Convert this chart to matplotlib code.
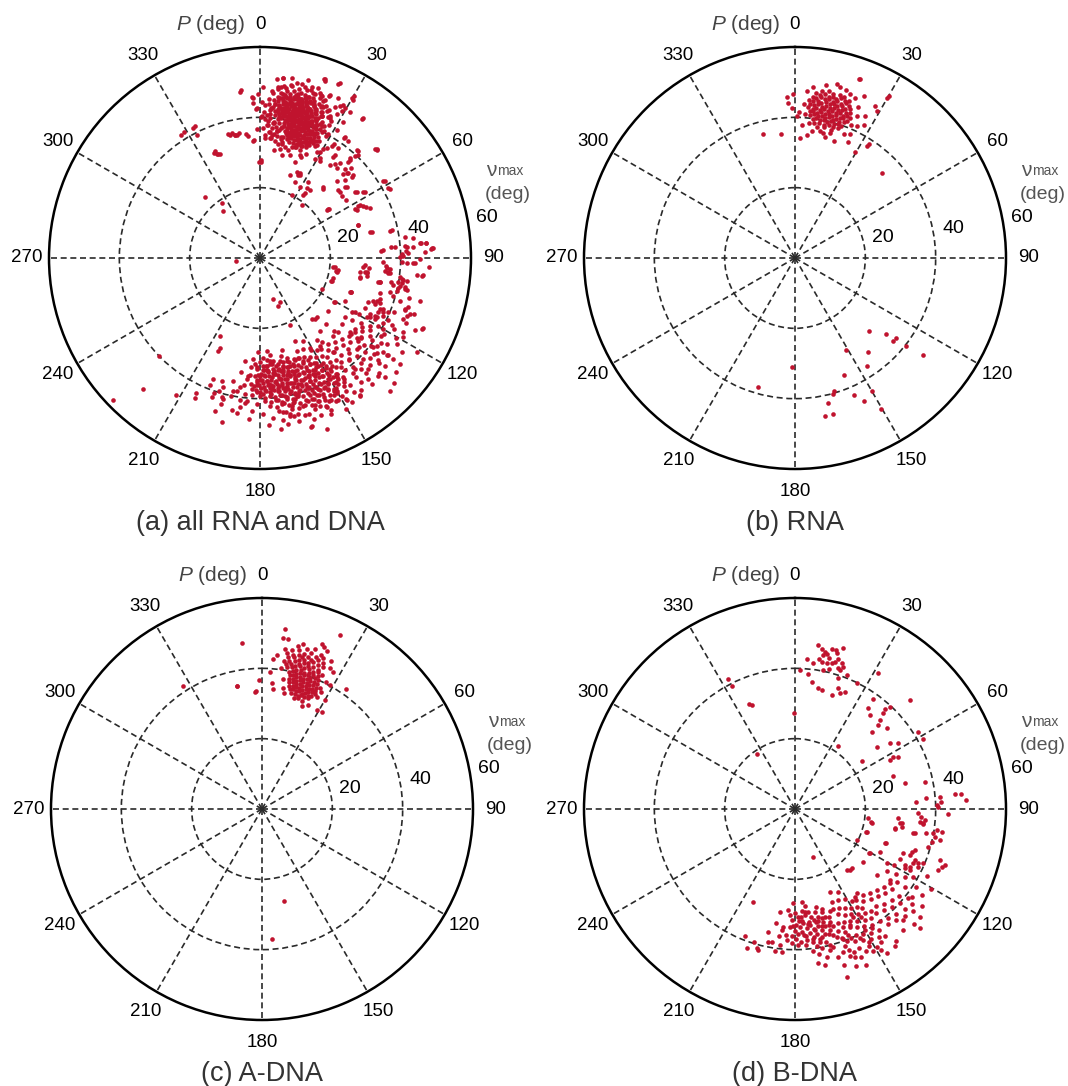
import numpy as np
import matplotlib.pyplot as plt

plt.rcParams['font.family'] = ['Liberation Sans', 'DejaVu Sans']
plt.rcParams['mathtext.fontset'] = 'custom'
plt.rcParams['mathtext.it'] = 'Liberation Sans:italic'
plt.rcParams['mathtext.rm'] = 'Liberation Sans'

# (P, vmax) pairs in degrees
rna_north = [
    (9.2,48.1),(11.4,48.3),(13.1,47.8),(15.3,48.2),(17.0,47.9),
    (7.1,47.2),(8.7,46.8),(10.2,47.4),(11.8,46.9),(13.4,47.1),(14.6,46.7),(16.2,47.3),(17.7,46.9),(19.1,47.2),
    (6.2,46.1),(7.6,45.8),(9.1,46.3),(10.6,45.9),(12.2,46.2),(13.7,45.7),(15.1,46.1),(16.6,45.8),(18.2,46.3),(19.6,45.9),
    (5.1,45.2),(6.6,44.8),(8.2,45.1),(9.6,44.7),(11.1,45.3),(12.7,44.9),(14.2,45.2),(15.6,44.8),(17.1,45.1),(18.7,44.7),(20.1,45.2),
    (5.6,44.1),(7.2,43.8),(8.6,44.2),(10.1,43.7),(11.7,44.1),(13.2,43.8),(14.7,44.2),(16.1,43.9),(17.6,44.3),(19.2,43.8),(20.6,44.1),
    (5.1,43.0),(6.7,42.7),(8.1,43.2),(9.7,42.8),(11.2,43.1),(12.6,42.7),(14.1,43.2),(15.7,42.8),(17.2,43.1),(18.6,42.7),(20.2,43.1),(21.6,42.8),
    (5.7,41.9),(7.1,42.1),(8.7,41.7),(10.2,42.2),(11.6,41.8),(13.1,42.1),(14.6,41.7),(16.2,42.2),(17.7,41.8),(19.1,42.1),(20.7,41.7),
    (6.1,40.9),(7.7,41.2),(9.2,40.8),(10.6,41.1),(12.1,40.7),(13.7,41.2),(15.2,40.8),(16.6,41.1),(18.1,40.7),(19.7,41.1),
    (7.2,39.9),(8.6,40.2),(10.1,39.8),(11.7,40.1),(13.2,39.7),(14.6,40.2),(16.1,39.8),(17.7,40.1),(19.2,39.8),
    (8.1,38.9),(10.2,39.1),(12.1,38.8),(14.2,39.1),(16.1,38.7),(18.1,39.0),
    (9.6,37.9),(12.4,38.1),(15.5,37.8),
    (19.6,54.0),(357.0,45.9),(359.4,46.6),(357.5,44.2),(359.0,42.8),(0.7,40.4),(1.5,41.5),(2.9,38.0),(345.6,36.5),(353.5,35.4),
    (2.4,34.2),(5.5,35.0),(11.2,36.8),(12.8,36.5),(15.8,36.8),(18.5,35.0),(25.2,41.5),(26.4,45.0),(27.9,48.9),(29.2,47.9),
    (29.9,52.6),(32.8,37.8),(33.0,38.5),(29.6,34.7),(23.0,50.0),(18.6,49.2),(13.5,50.8),(14.8,50.2),(10.0,50.0),(6.0,49.0),
    (22.5,46.5),(23.5,44.0),(22.8,41.0),(24.0,38.5),(21.5,38.0),(4.0,47.5),(3.5,44.0),(4.0,41.0),(6.0,38.5),(20.5,48.5),
    (27.5,42.5),(45.8,34.7),(30.3,53.2),(20.0,54.2),(7.5,36.5),(14.0,35.5),(24.5,36.2),(16.8,49.8),
]

rna_south = [
    (134.8,29.6),(130.0,33.7),(130.3,36.5),(128.4,36.7),(128.4,40.2),(127.0,45.6),(150.8,30.0),
    (142.0,33.9),(146.2,36.9),(181.7,31.1),(157.3,36.2),(163.8,39.5),(164.5,40.1),(156.5,42.4),
    (149.8,43.7),(154.3,45.0),(167.1,42.4),(150.4,49.4),(169.2,45.6),(166.2,45.6),(195.8,38.2),
]

adna = [
    (12.5,47.6),(15.8,47.2),(18.4,47.9),(21.0,47.0),(14.0,48.5),
    (10.6,45.9),(13.1,46.3),(15.2,45.8),(17.3,46.4),(19.6,46.0),(22.1,46.2),
    (11.4,44.8),(13.6,45.2),(14.9,44.6),(16.8,45.1),(18.3,44.7),(20.4,45.3),(22.6,44.9),
    (9.8,43.9),(12.0,44.2),(13.9,43.7),(15.8,44.1),(17.4,43.6),(19.1,44.3),(21.2,43.8),(23.3,43.9),
    (10.5,42.8),(12.6,43.1),(14.4,42.6),(16.1,43.2),(17.9,42.7),(19.7,43.0),(21.8,42.7),
    (9.4,41.9),(11.3,42.1),(13.2,41.7),(15.0,42.2),(16.7,41.8),(18.5,42.1),(20.2,41.6),(22.4,42.0),(24.2,41.8),
    (10.2,40.9),(12.0,41.2),(13.8,40.7),(15.5,41.1),(17.2,40.6),(18.9,41.0),(20.7,40.7),(22.6,41.1),
    (11.0,39.8),(12.6,40.2),(14.2,39.7),(15.8,40.1),(17.3,39.8),(18.8,40.2),(20.3,39.7),(21.9,40.1),(23.6,39.9),
    (11.6,38.9),(13.1,39.2),(14.6,38.8),(16.1,39.1),(17.6,38.7),(19.1,39.0),(20.6,38.8),(22.2,39.1),(23.8,38.8),
    (11.9,37.8),(13.4,38.1),(14.9,37.7),(16.4,38.2),(17.9,37.9),(19.4,38.1),(20.9,37.7),(22.4,38.0),(24.0,37.8),
    (12.2,36.9),(13.7,37.1),(15.2,36.7),(16.7,37.2),(18.2,36.8),(19.7,37.1),(21.2,36.7),(22.7,37.0),(24.3,36.8),
    (12.6,35.8),(14.1,36.2),(15.6,35.9),(17.1,36.1),(18.6,35.7),(20.1,36.2),(21.6,35.8),(23.1,36.1),(24.6,35.9),
    (13.0,34.9),(14.6,35.2),(16.1,34.8),(17.6,35.1),(19.1,34.7),(20.6,35.1),(22.1,34.8),(23.7,35.0),
    (14.2,33.9),(15.8,34.1),(17.4,33.8),(19.0,34.2),(20.6,33.9),(22.3,34.1),
    (16.0,32.9),(18.2,33.2),(20.5,32.8),
    (7.3,51.7),(7.1,48.9),(8.8,48.9),(24.3,54.2),(353.0,47.6),(4.0,42.9),(5.4,44.0),(358.8,36.7),(357.0,33.7),(348.6,35.6),
    (3.3,39.0),(4.4,35.8),(5.4,34.4),(25.8,44.4),(27.5,44.0),(28.7,40.2),(35.0,41.5),(28.9,32.1),(31.5,32.4),(21.0,31.4),
    (30.0,35.8),(21.0,49.2),(20.0,49.8),(22.5,48.6),(327.2,41.5),(348.7,35.8),(356.8,33.4),(166.8,27.0),(175.8,37.1),(8.0,46.0),
    (7.5,40.5),(25.5,38.0),(26.0,35.5),(9.0,37.5),(10.0,35.0),(26.5,40.5),(25.0,46.5),(8.5,42.5),(24.0,32.5),(11.0,33.5),
    (26.8,37.2),(9.2,44.8),
]

bdna_north = [
    (8.1,47.1),(10.8,45.5),(11.5,45.1),(10.4,44.5),(15.0,45.8),(16.0,44.5),(15.2,43.4),(14.1,42.7),(12.3,42.4),(17.8,43.5),
    (18.7,42.7),(17.9,41.5),(4.5,42.7),(10.3,42.5),(11.5,40.3),(5.6,38.7),(7.5,36.5),(10.9,34.9),(12.6,34.8),(17.8,34.0),
    (19.7,36.4),(21.2,35.4),(23.1,36.2),(21.1,40.8),(18.3,39.1),(26.0,39.9),(31.5,45.2),(359.4,27.2),(2.0,39.5),(46.5,45.0),
    (36.0,35.4),(38.6,34.2),(35.3,38.5),(42.1,38.2),(42.7,37.0),(42.9,39.7),(43.7,35.0),(44.8,33.6),(44.8,30.9),(48.6,34.7),
    (52.9,29.3),(55.3,32.8),(57.3,34.9),(57.9,41.4),(61.5,41.5),(62.0,31.6),(62.7,30.4),(63.4,32.8),(34.5,21.7),(54.0,23.4),
    (71.3,29.3),(76.6,32.1),(78.1,37.7),(86.6,34.6),(85.4,37.5),(85.2,41.3),(87.1,41.7),(84.6,45.6),(84.8,47.3),(87.0,48.6),
    (88.4,40.3),(89.1,40.7),(92.0,35.0),(93.5,36.0),(94.8,37.0),(96.7,36.7),(95.8,35.7),(91.9,43.6),(95.1,29.5),(97.8,30.1),
    (101.5,29.0),(99.4,30.7),(97.2,21.0),(99.5,21.8),(107.7,21.2),(116.5,19.8),(110.3,27.6),(101.4,34.8),(100.5,38.0),(100.0,39.9),
    (101.2,40.5),(98.4,40.7),(98.8,42.2),(102.0,42.1),(103.5,40.0),(105.8,39.4),(109.4,43.7),(111.5,44.8),(113.0,44.3),(110.6,45.6),
    (332.7,41.5),(332.7,39.3),(336.2,32.7),(337.5,31.9),(325.4,19.0),(13.0,46.6),(9.0,43.2),(16.5,47.6),(12.8,44.0),(14.5,46.8),
    (9.5,46.2),(16.8,42.0),(13.5,41.0),(7.2,41.8),
]

bdna_south = [
    (181.7,31.5),(182.7,30.1),(183.8,28.8),(188.3,29.5),(181.0,26.8),(175.9,26.4),(181.4,38.2),(186.3,38.9),(186.3,34.6),(185.7,33.6),
    (178.2,30.6),(176.5,31.8),(174.8,30.2),(173.1,32.5),(171.4,31.1),(169.6,32.8),(167.9,31.4),(166.2,33.2),(164.5,31.9),(162.8,33.6),
    (179.3,32.9),(177.6,33.7),(175.9,32.4),(174.2,34.1),(172.5,33.3),(170.8,34.6),(169.1,33.9),(167.4,35.2),(165.7,34.4),(164.0,35.8),
    (180.1,34.8),(178.4,35.6),(176.7,34.9),(175.0,36.2),(173.3,35.5),(171.6,36.8),(169.9,36.1),(168.2,37.3),(166.5,36.6),(163.2,37.4),
    (179.5,36.9),(177.3,37.8),(174.6,37.4),(172.2,38.3),(169.4,38.6),(166.8,38.9),(161.9,35.1),(162.4,32.2),(165.3,30.4),(168.8,29.9),
    (172.6,29.5),(176.1,29.1),(179.9,29.7),(170.2,31.9),(173.7,33.0),(177.0,30.7),(167.1,34.1),(164.6,36.9),(162.0,38.2),(180.8,33.3),
    (175.3,38.9),(171.0,39.5),(178.9,38.7),(184.2,35.9),(183.5,37.2),(182.4,33.6),(165.0,29.3),(161.2,30.6),(168.0,28.4),(174.0,27.8),
    (170.5,35.0),(176.0,35.8),(168.5,32.5),(172.0,37.2),(178.0,32.0),(166.0,31.8),(163.5,34.5),(174.5,29.5),(181.5,36.0),(169.0,37.8),
    (159.2,30.4),(157.8,32.1),(156.3,30.8),(154.9,33.2),(153.4,31.6),(151.9,34.0),(150.5,32.3),(149.0,34.8),(147.6,33.1),(146.1,35.6),
    (159.6,34.7),(158.1,36.3),(156.7,34.9),(155.2,37.1),(153.8,35.6),(152.3,38.0),(150.8,36.4),(149.4,38.8),(147.9,37.2),(146.5,39.5),
    (160.1,39.0),(158.6,40.4),(157.2,38.8),(155.7,41.2),(154.2,39.7),(152.8,42.0),(151.3,40.5),(149.8,42.9),(148.4,41.3),(146.9,43.6),
    (159.0,42.8),(157.5,44.1),(155.4,43.5),(153.6,45.2),(151.7,44.4),(149.3,45.8),(147.2,45.1),(145.4,41.9),(145.0,37.8),(145.8,33.9),
    (157.0,25.5),(152.4,26.5),(155.0,28.6),(151.0,29.4),(148.2,30.7),(146.0,31.2),(158.3,28.5),(160.4,36.8),(156.0,46.2),(151.6,34.8),
    (154.5,36.5),(150.0,39.6),(157.9,37.6),(148.8,36.0),(153.1,41.0),(156.6,40.0),(147.3,40.3),(150.9,43.2),(144.8,44.3),(159.5,44.7),
    (139.7,22.7),(138.0,23.3),(136.3,23.3),(145.6,30.2),(143.8,29.7),(127.7,24.5),(120.8,24.6),
    (143.2,32.5),(141.5,31.1),(139.8,33.4),(138.1,32.0),(136.4,34.3),(134.7,32.8),(133.0,35.1),(131.3,33.6),(129.6,35.9),(127.9,34.4),
    (143.6,36.2),(141.9,37.5),(140.2,36.0),(138.5,38.4),(136.8,37.0),(135.1,39.2),(133.4,37.8),(131.7,40.1),(130.0,38.6),(128.3,40.9),
    (142.7,40.1),(141.0,42.0),(139.3,40.7),(137.6,42.8),(135.9,41.4),(134.2,43.6),(132.5,42.3),(130.8,44.4),(129.1,43.0),(127.4,45.3),
    (135.7,44.0),(138.2,46.1),(134.0,46.9),(130.8,46.9),(133.7,49.1),(126.8,33.9),(128.9,30.0),(125.6,35.7),(126.9,41.5),(125.2,38.3),
    (120.6,30.3),(119.7,32.3),(122.7,34.0),(112.2,33.3),(110.1,35.3),(108.9,36.0),(114.7,37.0),(113.8,38.3),(112.9,39.6),(117.9,37.0),
    (119.8,38.7),(122.6,41.0),(124.0,43.5),(120.5,44.8),(117.0,42.0),(115.5,33.0),(118.2,35.5),(121.5,36.8),(123.8,31.6),(110.5,27.3),
    (107.6,21.4),(100.6,22.2),(100.9,28.9),(101.6,34.3),(96.4,36.7),(97.6,30.6),(111.8,35.2),(113.0,37.0),(115.0,38.7),(116.6,36.6),
    (117.0,35.1),(120.6,24.7),(116.7,27.0),
    (171.4,44.2),(169.1,45.1),(162.9,50.1),(158.0,45.5),(163.7,43.7),(161.3,42.8),(166.1,41.3),(164.5,40.6),(167.9,42.9),(151.2,46.2),
    (144.0,48.3),(147.6,48.6),(160.0,41.5),(165.5,39.8),(168.8,40.2),(170.5,41.8),(162.5,46.4),(158.6,47.8),(155.5,48.6),(148.8,47.0),
    (142.5,47.3),(172.8,40.6),(159.8,39.4),
    (204.2,28.9),(201.5,38.8),(195.4,41.0),(194.6,41.4),(191.4,38.5),(190.0,38.3),(188.0,40.9),(192.5,35.8),(189.6,33.0),(197.0,39.5),
    (185.0,40.8),(199.0,41.8),(187.2,36.4),(160.0,14.6),
]

# residues in (a) that belong to none of the three sub-sets
misc_north = [
    (8.0,49.5),(10.5,49.8),(13.0,49.3),(15.5,49.7),(18.0,49.2),(20.5,49.6),(12.0,50.8),(19.0,51.0),
    (6.0,48.2),(22.0,48.0),(23.5,47.2),(4.5,47.0),(24.5,46.0),
    (22.3,46.6),(23.0,45.2),(23.8,44.0),(22.5,43.2),(24.5,42.5),(23.2,41.2),(25.0,40.5),(22.8,40.0),(24.7,39.0),(23.0,38.4),
    (4.2,39.8),(5.8,39.0),(3.5,38.0),(5.2,37.2),(7.0,37.6),(8.6,36.8),(4.0,36.0),(6.3,35.6),(8.0,35.0),(9.8,34.3),
    (5.0,34.2),(7.2,33.4),(9.0,32.7),(11.0,33.0),(12.8,32.3),(10.5,31.5),(14.5,31.6),(7.5,31.0),
    (8.8,44.9),(11.9,44.5),(14.9,44.3),(17.9,44.7),(9.9,42.4),(12.9,42.4),(15.9,42.3),(18.9,42.5),(11.2,40.4),(14.0,40.5),
    (16.9,40.3),(19.9,40.6),(8.4,40.5),(10.4,38.3),(13.0,38.4),(15.9,38.3),(18.7,38.4),(21.3,38.9),(11.5,36.4),(14.0,36.5),
    (16.8,36.3),(19.5,36.5),(10.5,46.6),(13.5,46.5),(16.4,46.6),(19.4,46.5),(7.3,43.5),(20.9,44.8),(21.9,42.4),(6.8,45.7),
    (3.2,45.3),(3.8,42.1),(2.8,40.6),(26.5,44.5),(26.0,41.8),(25.6,37.0),(20.3,34.0),(17.6,33.2),(22.5,35.5),
    (353.4,48.0),(346.3,36.0),(349.3,35.7),(354.4,35.0),(7.4,51.6),(20.2,53.6),(24.6,54.6),(16.8,50.8),(23.2,50.4),(26.0,50.7),
    (30.6,52.1),(36.5,49.4),(47.0,45.3),(357.6,45.4),(0.6,44.4),(358.5,42.4),(0.3,40.1),(0.4,27.4),(338.9,31.6),(20.0,29.1),
    (25.3,26.6),(24.8,26.0),(19.9,25.1),(328.7,41.8),(333.6,41.8),(337.0,33.0),(338.0,32.0),(318.0,23.5),(322.0,16.9),(264.0,7.0),
    (0.5,28.0),(347.3,36.3),(350.4,36.0),(1.5,37.0),(2.0,43.5),(1.0,48.5),(28.0,46.5),(28.5,39.5),(27.0,36.0),(5.5,51.0),
    (15.0,52.5),(10.0,52.0),(26.5,48.0),(2.5,35.0),(16.0,30.5),(22.0,31.0),(12.0,29.8),
]

misc_east = [
    (42.3,26.7),(49.0,29.5),(50.6,31.9),(55.6,33.3),(57.7,35.3),(47.5,32.8),(37.0,33.1),(40.5,33.5),(40.2,35.2),(31.0,33.1),
    (28.1,34.2),(31.3,36.5),(36.1,36.2),(41.8,41.2),(43.7,40.4),(31.0,42.4),(35.0,42.1),(37.0,41.7),(29.6,48.9),(31.6,48.8),
    (28.6,49.5),(24.6,23.9),(26.7,20.0),(33.8,23.8),(29.3,23.2),(36.3,48.9),(47.2,45.2),(42.5,41.3),(42.6,37.8),(45.6,36.4),
    (46.2,34.8),(48.3,35.5),(50.0,31.5),(56.2,29.6),(64.3,33.6),(65.7,34.3),(62.0,32.2),(63.6,30.7),(58.3,41.8),(62.1,41.8),
    (54.8,24.0),(71.4,29.5),(76.7,32.6),(78.0,38.3),(81.6,41.6),(82.5,43.9),(84.8,46.1),(85.0,47.5),(86.8,49.3),(86.3,35.1),
    (85.5,38.5),(85.6,41.8),(85.8,43.5),(88.2,42.2),(89.5,39.8),(91.5,40.3),(92.1,41.7),(92.0,44.1),(93.8,29.9),(95.4,31.2),
    (97.8,28.7),(98.1,30.8),(96.5,37.2),(94.6,36.1),(101.2,34.7),(97.6,40.1),(98.7,41.2),(100.1,40.9),(101.2,42.0),(102.3,42.7),
    (102.4,40.2),(101.5,38.6),(104.5,38.2),(108.2,44.3),(109.7,43.8),(96.2,44.8),(95.9,46.6),(113.3,50.5),(96.6,21.5),(98.7,22.5),
    (105.5,21.6),(110.2,27.7),(111.0,34.5),(110.7,36.4),(116.7,37.1),(117.9,39.6),(118.8,34.6),(124.0,34.9),(123.2,37.3),(41.6,27.1),
    (50.3,29.5),(54.5,23.8),(38.2,19.2),(34.8,22.4),(36.3,24.0),(32.3,25.6),(25.7,26.2),(23.0,26.6),
    (105.0,44.0),(107.0,41.5),(112.0,41.0),(114.0,45.5),(118.0,43.0),(120.0,40.5),(122.0,46.0),(125.0,42.0),(127.0,47.5),(115.0,48.5),
    (112.5,38.0),(106.5,35.5),(119.5,31.0),(124.5,29.5),(128.0,36.5),(132.0,38.0),(134.5,41.0),(136.0,36.0),(130.0,42.5),(137.5,44.5),
    (126.0,39.5),(129.5,33.0),(133.5,30.5),(139.0,38.5),(141.0,43.5),(135.0,47.5),(131.5,45.0),(138.5,48.0),(127.5,44.0),(121.5,41.5),
    (116.0,40.5),(119.0,46.5),(123.5,48.5),(93.0,48.0),(90.5,45.5),(88.0,47.0),(105.0,47.0),(110.0,46.5),(133.0,52.0),(130.0,50.5),
    (127.0,50.0),(121.0,52.0),(113.6,50.2),(96.2,46.3),(86.7,49.1),(135.6,52.8),(117.4,45.9),
]

misc_south = [
    (150.5,44.2),(153.0,43.8),(155.5,44.4),(158.0,43.9),(160.5,44.3),(163.0,43.7),(165.5,44.1),(168.0,43.8),(170.5,44.3),(173.0,43.9),
    (146.0,42.6),(148.3,42.2),(150.6,42.8),(152.9,42.3),(155.2,42.7),(157.5,42.2),(159.8,42.8),(162.1,42.3),(164.4,42.7),(166.7,42.2),
    (169.0,42.6),(171.3,42.1),(173.6,42.7),(176.0,42.2),
    (145.0,41.2),(147.2,40.8),(149.4,41.3),(151.6,40.7),(153.8,41.2),(156.0,40.8),(158.2,41.3),(160.4,40.7),(162.6,41.1),(164.8,40.6),
    (167.0,41.2),(169.2,40.8),(171.4,41.3),(173.6,40.7),(175.8,41.1),(178.0,40.6),
    (146.5,39.4),(148.6,39.7),(150.7,39.3),(152.8,39.8),(154.9,39.4),(157.0,39.7),(159.1,39.2),(161.2,39.8),(163.3,39.3),(165.4,39.7),
    (167.5,39.2),(169.6,39.8),(171.7,39.3),(173.8,39.7),(175.9,39.2),(178.0,39.7),(180.1,39.3),
    (147.8,38.1),(149.8,37.8),(151.8,38.2),(153.8,37.7),(155.8,38.1),(157.8,37.8),(159.8,38.2),(161.8,37.7),(163.8,38.1),(165.8,37.8),
    (167.8,38.2),(169.8,37.7),(171.8,38.1),(173.8,37.8),(175.8,38.2),(177.8,37.7),(179.8,38.1),(181.8,37.6),
    (149.0,36.6),(151.1,36.3),(153.2,36.7),(155.3,36.2),(157.4,36.6),(159.5,36.3),(161.6,36.7),(163.7,36.2),(165.8,36.6),(167.9,36.3),
    (170.0,36.7),(172.1,36.2),(174.2,36.6),(176.3,36.3),(178.4,36.7),(180.5,36.2),(182.6,36.5),
    (150.5,35.1),(152.7,34.8),(154.9,35.2),(157.1,34.7),(159.3,35.1),(161.5,34.8),(163.7,35.2),(165.9,34.7),(168.1,35.1),(170.3,34.8),
    (172.5,35.2),(174.7,34.7),(176.9,35.1),(179.1,34.8),(181.3,35.2),
    (152.6,33.6),(154.9,33.3),(157.2,33.7),(159.5,33.2),(161.8,33.6),(164.1,33.3),(166.4,33.7),(168.7,33.2),(171.0,33.6),(173.3,33.3),
    (175.6,33.7),(177.9,33.2),(180.2,33.6),
    (155.0,32.1),(157.6,31.8),(160.2,32.2),(162.8,31.7),(165.4,32.1),(168.0,31.8),(170.6,32.2),(173.2,31.7),(175.8,32.1),(178.4,31.8),
    (158.5,30.6),(161.5,30.3),(164.5,30.7),(167.5,30.2),(170.5,30.6),(173.5,30.3),(176.5,30.7),
    (152.0,46.0),(156.0,46.5),(160.0,45.8),(164.0,46.3),(168.0,45.9),(172.0,46.4),(175.5,45.6),(155.0,47.8),(161.5,48.2),(166.5,47.6),
    (170.5,48.0),(173.0,49.0),(163.3,50.1),(158.6,52.1),(145.0,46.5),(148.5,47.5),
    (181.5,34.7),(185.0,33.5),(183.5,39.0),(186.0,41.5),(189.0,37.0),(192.0,40.0),(195.0,43.0),(199.0,40.5),(193.0,48.0),(205.4,42.6),
    (211.7,45.7),(221.8,50.0),(226.0,58.0),(226.0,40.0),(205.0,43.8),(207.0,25.0),(204.0,28.0),(197.0,36.5),(188.5,44.5),(184.0,46.0),
    (162.0,12.2),(155.6,13.8),(156.0,21.0),
    (142.0,34.0),(143.5,38.5),(141.0,45.5),(144.0,48.5),(139.5,41.5),(137.0,30.5),(140.5,27.0),(135.0,26.5),(145.0,28.5),
    (184.5,31.0),(187.5,42.8),(190.5,44.0),(183.0,43.5),(179.0,44.5),(177.0,47.5),(181.0,41.5),(196.5,45.5),(201.0,37.0),(178.5,28.5),
]

titles = ['(a) all RNA and DNA', '(b) RNA', '(c) A-DNA', '(d) B-DNA']
angle_ticks = list(range(0, 360, 30))
vmax_ticks = [20, 40, 60]

panels = [
    rna_north + rna_south + adna + bdna_north + bdna_south + misc_north + misc_east + misc_south,
    rna_north + rna_south,
    adna,
    bdna_north + bdna_south,
]

W, H = 1068, 1086
R = 211
centers = [(260, 258), (795, 258), (262, 809), (795, 809)]
dash = (0, (3.6, 2.2))

fig = plt.figure(figsize=(W / 100, H / 100), dpi=100)

for (cx, cy), pts, title in zip(centers, panels, titles):
    ax = fig.add_axes([(cx - R) / W, (H - cy - R) / H, 2 * R / W, 2 * R / H], projection='polar')
    ax.set_theta_zero_location('N')
    ax.set_theta_direction(-1)
    ax.set_ylim(0, 60)
    ax.set_xticks(np.radians(angle_ticks))
    ax.set_xticklabels([])
    ax.set_yticks(vmax_ticks[:2])
    ax.set_yticklabels([])
    ax.tick_params(length=0)
    ax.grid(True, color='#2a2a2a', lw=1.2, ls=dash)
    ax.set_axisbelow(True)
    ax.spines['polar'].set_linewidth(1.8)

    P = np.radians([p for p, v in pts])
    V = [v for p, v in pts]
    ax.scatter(P, V, s=11, c='#C0132E', lw=0, zorder=3)

    for a in angle_ticks:
        ax.text(np.radians(a), 66.4, str(a), ha='center', va='center', fontsize=13.5)
    ax.text(0.465, 1.054, '$P$ (deg)', transform=ax.transAxes, ha='right', va='center',
            fontsize=15, color='#444444')
    for v, (x, y) in zip(vmax_ticks, [(0.708, 0.548), (0.876, 0.569), (1.038, 0.596)]):
        ax.text(x, y, str(v), transform=ax.transAxes, ha='center', va='center', fontsize=14)
    nu = ax.text(1.036, 0.707, 'ν', transform=ax.transAxes, ha='left', va='center',
                 fontsize=15, color='#555555')
    ax.annotate('max', xy=(1.0, 0.12), xycoords=nu, ha='left', va='bottom',
                fontsize=10, color='#555555')
    ax.text(1.087, 0.650, '(deg)', transform=ax.transAxes, ha='center', va='center',
            fontsize=14, color='#555555')
    ax.text(0.5, -0.128, title, transform=ax.transAxes, ha='center', va='center',
            fontsize=19.5, color='#333333')

fig.savefig('out.png', dpi=100)
